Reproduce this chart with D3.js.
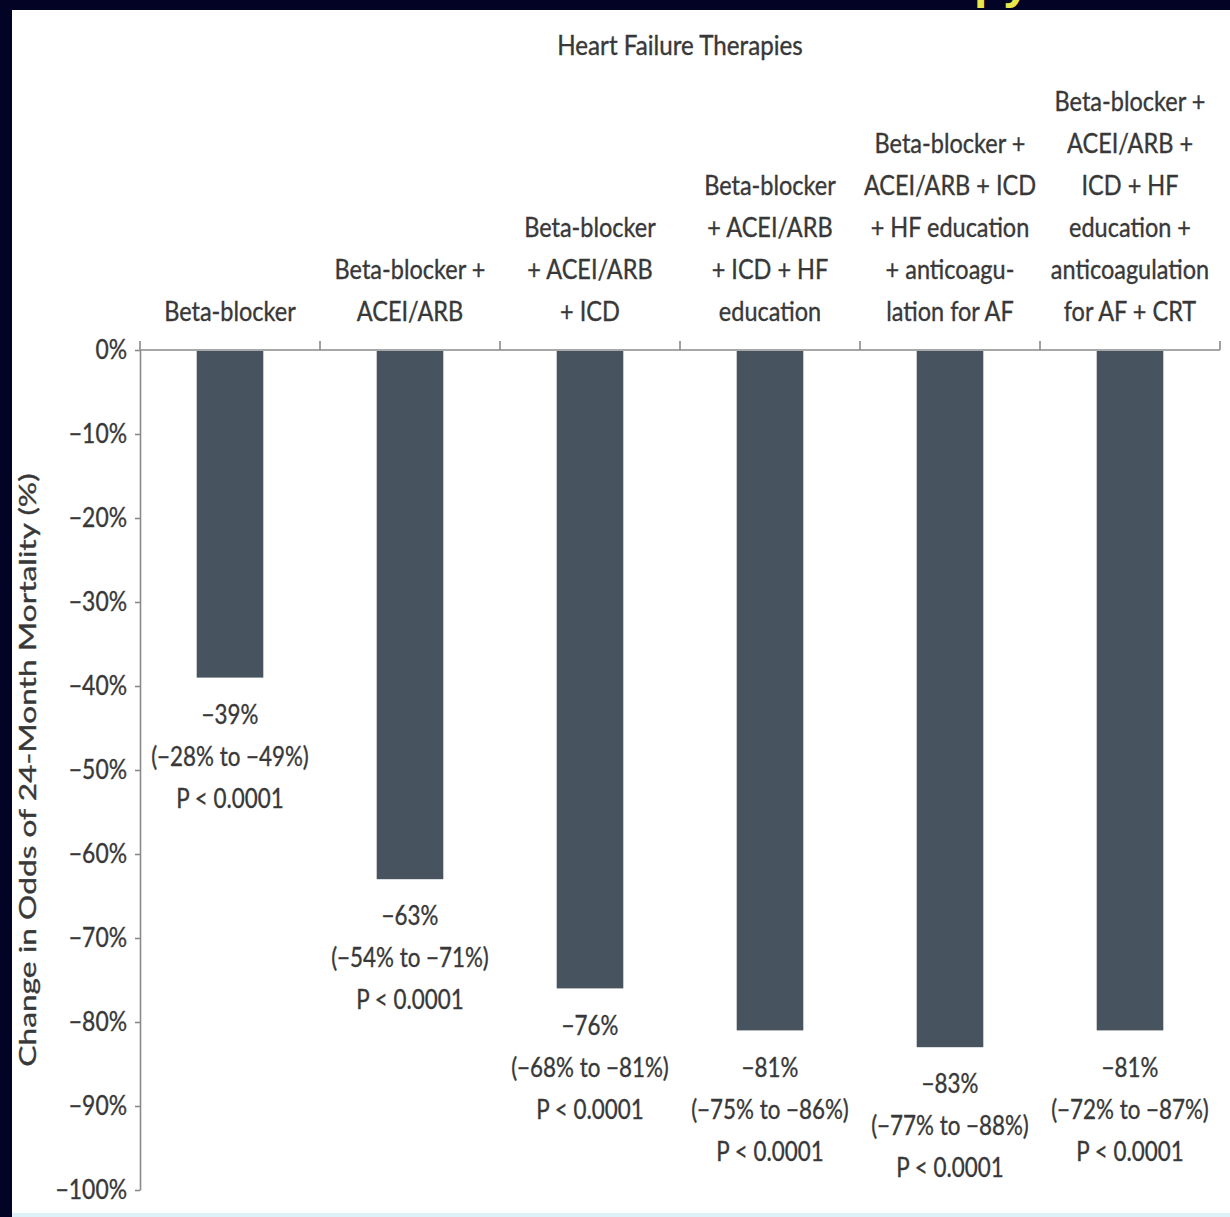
<!DOCTYPE html>
<html>
<head>
<meta charset="utf-8">
<script src="https://cdn.jsdelivr.net/npm/d3@7"></script>
<style>
  html, body { margin: 0; padding: 0; background: #020325; }
  svg { display: block; }
  text { font-family: Lato, "Open Sans", sans-serif; fill: #383838; stroke: #383838; stroke-width: 0.35px; }
</style>
</head>
<body>
<svg id="chart" width="1230" height="1217"></svg>
<script>
// Therapy combinations along the top axis (one entry per line of the label)
const categories = ["c1", "c2", "c3", "c4", "c5", "c6"];
const categoryLines = [
  ["Beta-blocker"],
  ["Beta-blocker +", "ACEI/ARB"],
  ["Beta-blocker", "+ ACEI/ARB", "+ ICD"],
  ["Beta-blocker", "+ ACEI/ARB", "+ ICD + HF", "education"],
  ["Beta-blocker +", "ACEI/ARB + ICD", "+ HF education", "+ anticoagu-", "lation for AF"],
  ["Beta-blocker +", "ACEI/ARB +", "ICD + HF", "education +", "anticoagulation", "for AF + CRT"]
];
// Change in odds of 24-month mortality (%), with 95% CI bounds
const changeValues = [-39, -63, -76, -81, -83, -81];
const ciLow  = [-28, -54, -68, -75, -77, -72];
const ciHigh = [-49, -71, -81, -86, -88, -87];
const pLabels = ["P < 0.0001", "P < 0.0001", "P < 0.0001", "P < 0.0001", "P < 0.0001", "P < 0.0001"];
const yTicks = [0, -10, -20, -30, -40, -50, -60, -70, -80, -90, -100];

const svg = d3.select("#chart");

// set each text's drawn width to a factor of its natural width
function condense(sel, k) {
  sel.each(function () {
    const w = this.getComputedTextLength();
    d3.select(this).attr("textLength", w * k).attr("lengthAdjust", "spacingAndGlyphs");
  });
}
const minus = v => (v < 0 ? "\u2212" : "") + Math.abs(v) + "%";

// slide frame
svg.append("text")
  .attr("x", 1030).attr("y", -2)
  .attr("text-anchor", "end")
  .style("font-family", "'Liberation Sans', sans-serif")
  .style("font-weight", "bold").style("font-size", "48px")
  .style("fill", "#e6e84c").style("stroke", "none")
  .text("Therapy");
svg.append("rect").attr("x", 12).attr("y", 10).attr("width", 1218).attr("height", 1203).attr("fill", "#ffffff");
svg.append("rect").attr("x", 12).attr("y", 1213).attr("width", 1218).attr("height", 4).attr("fill", "#dcf1f8");

const x = d3.scaleBand().domain(categories).range([140, 1220]).paddingInner(0).paddingOuter(0);
const y = d3.scaleLinear().domain([-100, 0]).range([1190, 350]);
const barW = x.bandwidth() * 0.37;

// title
svg.append("text")
  .attr("x", 680).attr("y", 46).attr("text-anchor", "middle").attr("dy", "0.35em")
  .style("font-size", "26px")
  .text("Heart Failure Therapies")
  .call(condense, 0.93);

// y axis
const yAxis = svg.append("g")
  .attr("transform", "translate(140,0)")
  .call(d3.axisLeft(y).tickValues(yTicks).tickFormat(minus).tickSize(5).tickSizeOuter(0).tickPadding(8));
yAxis.select(".domain").attr("stroke", "#8a8a8a").attr("stroke-width", 1.6);
yAxis.selectAll(".tick line").attr("stroke", "#8a8a8a").attr("stroke-width", 1.6);
yAxis.selectAll(".tick text")
  .style("font-family", "Lato, sans-serif").style("font-size", "26px")
  .call(condense, 0.88);

// y axis title
svg.append("text")
  .attr("transform", "translate(28,770) rotate(-90)")
  .attr("text-anchor", "middle").attr("dy", "0.35em")
  .style("font-size", "24px")
  .text("Change in Odds of 24-Month Mortality (%)")
  .call(condense, 1.32);

// bars
svg.append("g").selectAll("rect")
  .data(categories)
  .join("rect")
  .attr("x", d => x(d) + (x.bandwidth() - barW) / 2)
  .attr("y", y(0) + 1)
  .attr("width", barW)
  .attr("height", (d, i) => y(changeValues[i]) - y(0) - 1)
  .attr("fill", "#47545f");

// top category axis: line plus boundary ticks
const xAxis = svg.append("g").attr("transform", `translate(0,${y(0)})`);
const edges = [x.range()[0]].concat(categories.map(c => x(c) + x.bandwidth()));
xAxis.append("line")
  .attr("x1", x.range()[0]).attr("x2", x.range()[1])
  .attr("stroke", "#8a8a8a").attr("stroke-width", 1.6);
xAxis.selectAll("line.edge").data(edges).join("line")
  .attr("class", "edge")
  .attr("x1", d => d).attr("x2", d => d)
  .attr("y1", 0).attr("y2", -9)
  .attr("stroke", "#8a8a8a").attr("stroke-width", 1.6);

// category labels, bottom-aligned above the axis
const lineH = 42;
categories.forEach((c, i) => {
  const lines = categoryLines[i];
  const cx = x(c) + x.bandwidth() / 2;
  svg.append("g").selectAll("text")
    .data(lines)
    .join("text")
    .attr("x", cx)
    .attr("y", (d, j) => 312 - (lines.length - 1 - j) * lineH)
    .attr("dy", "0.35em")
    .attr("text-anchor", "middle")
    .style("font-size", "27px")
    .text(d => d)
    .call(condense, 0.87);
});

// value labels below each bar
categories.forEach((c, i) => {
  const cx = x(c) + x.bandwidth() / 2;
  const top = y(changeValues[i]) + 37;
  const lines = [minus(changeValues[i]), `(${minus(ciLow[i])} to ${minus(ciHigh[i])})`, pLabels[i]];
  svg.append("g").selectAll("text")
    .data(lines)
    .join("text")
    .attr("x", cx)
    .attr("y", (d, j) => top + j * lineH)
    .attr("dy", "0.35em")
    .attr("text-anchor", "middle")
    .style("font-size", "26px")
    .text(d => d)
    .call(condense, 0.86);
});
</script>
</body>
</html>
